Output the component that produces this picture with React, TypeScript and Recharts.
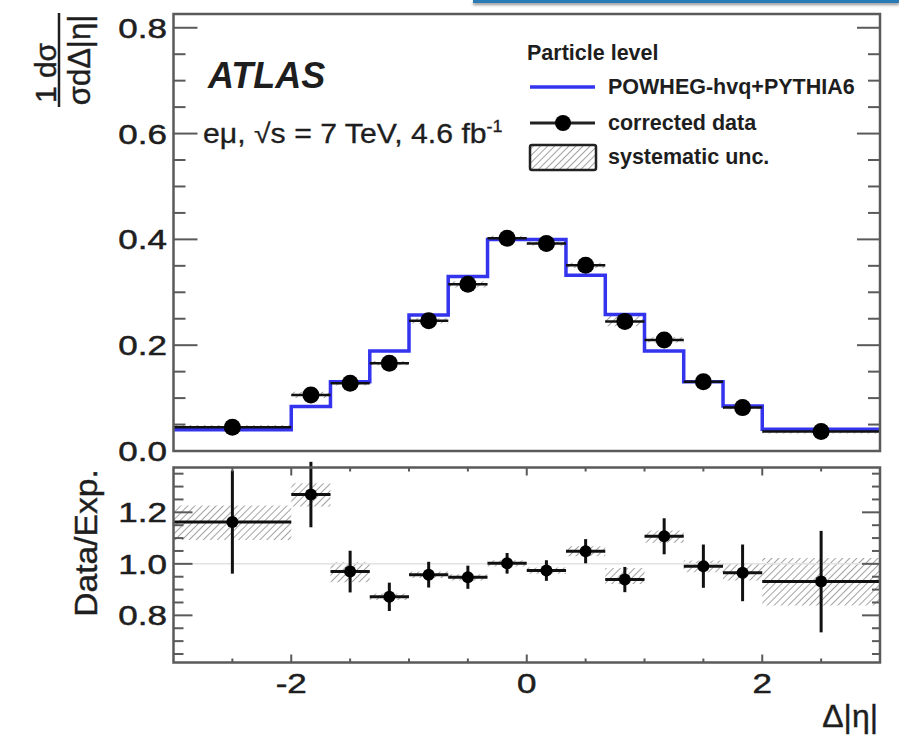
import React from 'react';
import {
  ComposedChart,
  Line,
  Scatter,
  ErrorBar,
  XAxis,
  YAxis,
  ReferenceArea,
  ReferenceLine,
} from 'recharts';

// Δ|η| binning
const binEdges = [-3, -2, -1.667, -1.333, -1, -0.667, -0.333, 0, 0.333, 0.667, 1, 1.333, 1.667, 2, 3];
const binCenters = [-2.5, -1.833, -1.5, -1.167, -0.833, -0.5, -0.167, 0.167, 0.5, 0.833, 1.167, 1.5, 1.833, 2.5];
const binHalfWidths = [0.5, 0.1667, 0.1667, 0.1667, 0.1667, 0.1667, 0.1667, 0.1667, 0.1667, 0.1667, 0.1667, 0.1667, 0.1667, 0.5];

// upper panel: normalised distribution
const mcValues = [0.040, 0.084, 0.131, 0.189, 0.257, 0.330, 0.400, 0.400, 0.332, 0.258, 0.189, 0.131, 0.085, 0.041];
const dataValues = [0.045, 0.106, 0.128, 0.166, 0.246, 0.315, 0.402, 0.392, 0.351, 0.245, 0.210, 0.131, 0.082, 0.037];
const dataSysLow = [0.041, 0.100, 0.124, 0.162, 0.241, 0.309, 0.397, 0.388, 0.346, 0.236, 0.205, 0.128, 0.079, 0.033];
const dataSysHigh = [0.049, 0.112, 0.132, 0.170, 0.251, 0.321, 0.407, 0.396, 0.356, 0.255, 0.215, 0.134, 0.085, 0.041];

// lower panel: data / expectation
const ratioValues = [1.162, 1.269, 0.970, 0.872, 0.958, 0.948, 1.002, 0.974, 1.049, 0.939, 1.107, 0.991, 0.965, 0.931];
const ratioStat = [0.2, 0.127, 0.081, 0.055, 0.05, 0.045, 0.04, 0.04, 0.047, 0.049, 0.07, 0.084, 0.11, 0.197];
const ratioSysLow = [1.093, 1.223, 0.929, 0.86, 0.945, 0.935, 0.99, 0.962, 1.029, 0.922, 1.082, 0.967, 0.935, 0.838];
const ratioSysHigh = [1.226, 1.313, 1.006, 0.885, 0.97, 0.96, 1.014, 0.986, 1.068, 0.984, 1.129, 1.013, 1.0, 1.023];

const xTicks = [-2.5, -2, -1.5, -1, -0.5, 0, 0.5, 1, 1.5, 2, 2.5];
const xMajor = [-2, 0, 2];
const upperYTicks = [0, 0.05, 0.1, 0.15, 0.2, 0.25, 0.3, 0.35, 0.4, 0.45, 0.5, 0.55, 0.6, 0.65, 0.7, 0.75, 0.8];
const upperYMajor = [0, 0.2, 0.4, 0.6, 0.8];
const lowerYTicks = [0.65, 0.7, 0.75, 0.8, 0.85, 0.9, 0.95, 1, 1.05, 1.1, 1.15, 1.2, 1.25, 1.3, 1.35];
const lowerYMajor = [0.8, 1, 1.2];

const W = 899;
const H = 736;
const L = 173.5;
const R = 880;
const T1 = 14;
const B1 = 451;
const T2 = 467.5;
const B2 = 662.5;
const UPPER_H = 480;

const FONT = '"Liberation Sans", Arial, Helvetica, sans-serif';
const INK = '#1e1e1e';
const FRAME = '#5a5a5a';
const BLUE = '#3434ee';

const mcLine = binEdges.map((e, i) => ({ x: e, y: mcValues[Math.min(i, mcValues.length - 1)] }));
const upperPoints = binCenters.map((c, i) => ({ x: c, y: dataValues[i], xe: binHalfWidths[i] }));
const lowerPoints = binCenters.map((c, i) => ({ x: c, y: ratioValues[i], xe: binHalfWidths[i], ye: ratioStat[i] }));

const Txt = ({ x, y, size, sx = 1, anchor = 'start', weight = 'normal', italic = false, rotate = 0, bold = 0, children }: any) => (
  <text
    transform={`translate(${x},${y}) rotate(${rotate}) scale(${sx},1)`}
    textAnchor={anchor}
    fontSize={size}
    fontWeight={weight}
    fontStyle={italic ? 'italic' : 'normal'}
    fontFamily={FONT}
    fill={INK}
    stroke={bold ? INK : 'none'}
    strokeWidth={bold}
  >
    {children}
  </text>
);

const makeXTick = (top: number, bottom: number, majLen: number, minLen: number, labels: boolean) => (p: any) => {
  const v = p.payload.value;
  const major = xMajor.includes(v);
  const len = major ? majLen : minLen;
  return (
    <g>
      <line x1={p.x} x2={p.x} y1={top} y2={top + len} stroke={FRAME} strokeWidth={2} />
      <line x1={p.x} x2={p.x} y1={bottom - len} y2={bottom} stroke={FRAME} strokeWidth={2} />
      {labels && major && (
        <Txt x={p.x} y={693} size={28} sx={1.25} bold={0.5} anchor="middle">{String(v)}</Txt>
      )}
    </g>
  );
};

const makeYTick = (majors: number[], majL: number, minL: number, majR: number, minR: number) => (p: any) => {
  const v = p.payload.value;
  const major = majors.includes(v);
  const lenL = major ? majL : minL;
  const lenR = major ? majR : minR;
  return (
    <g>
      <line x1={L} x2={L + lenL} y1={p.y} y2={p.y} stroke={FRAME} strokeWidth={2} />
      <line x1={R - lenR} x2={R} y1={p.y} y2={p.y} stroke={FRAME} strokeWidth={2} />
      {major && (
        <Txt x={167} y={p.y + 10} size={28} sx={1.25} bold={0.5} anchor="end">{v.toFixed(1)}</Txt>
      )}
    </g>
  );
};

const Dot = (r: number) => (p: any) => <circle cx={p.cx} cy={p.cy} r={r} fill="#000" />;

export default function App() {
  return (
    <div style={{ position: 'absolute', left: 0, top: 0, width: W, height: H, background: '#fff', overflow: 'hidden' }}>
      <div style={{ position: 'absolute', left: 0, top: 0 }}>
        <ComposedChart width={W} height={UPPER_H} margin={{ top: T1, right: W - R, bottom: UPPER_H - B1, left: 0 }}>
          <XAxis
            type="number"
            dataKey="x"
            domain={[-3, 3]}
            ticks={xTicks}
            interval={0}
            allowDataOverflow
            height={0}
            axisLine={false}
            tickLine={false}
            tick={makeXTick(T1, B1, 11, 6, false)}
          />
          <YAxis
            type="number"
            dataKey="y"
            domain={[0, 0.826]}
            ticks={upperYTicks}
            interval={0}
            allowDataOverflow
            width={L}
            axisLine={false}
            tickLine={false}
            tick={makeYTick(upperYMajor, 24, 12, 23, 12)}
          />
          {binCenters.map((c, i) => (
            <ReferenceArea
              key={'us' + i}
              x1={binEdges[i]}
              x2={binEdges[i + 1]}
              y1={dataSysLow[i]}
              y2={dataSysHigh[i]}
              fill="url(#hatch)"
              fillOpacity={1}
              stroke="none"
              ifOverflow="hidden"
            />
          ))}
          <Line
            data={mcLine}
            dataKey="y"
            type="stepAfter"
            stroke={BLUE}
            strokeWidth={3.5}
            dot={false}
            isAnimationActive={false}
          />
          <Scatter data={upperPoints} shape={Dot(8.5)} isAnimationActive={false}>
            <ErrorBar dataKey="xe" direction="x" width={0} stroke="#111" strokeWidth={2.5} isAnimationActive={false} />
          </Scatter>
        </ComposedChart>
      </div>

      <div style={{ position: 'absolute', left: 0, top: 0 }}>
        <ComposedChart width={W} height={H} margin={{ top: T2, right: W - R, bottom: H - B2 - 40, left: 0 }}>
          <XAxis
            type="number"
            dataKey="x"
            domain={[-3, 3]}
            ticks={xTicks}
            interval={0}
            allowDataOverflow
            height={40}
            axisLine={false}
            tickLine={false}
            tick={makeXTick(T2, B2, 8, 4, true)}
          />
          <YAxis
            type="number"
            dataKey="y"
            domain={[0.617, 1.374]}
            ticks={lowerYTicks}
            interval={0}
            allowDataOverflow
            width={L}
            axisLine={false}
            tickLine={false}
            tick={makeYTick(lowerYMajor, 19, 10, 18, 8)}
          />
          <ReferenceLine y={1} stroke="#e2e2e2" strokeWidth={1.5} />
          {binCenters.map((c, i) => (
            <ReferenceArea
              key={'ls' + i}
              x1={binEdges[i]}
              x2={binEdges[i + 1]}
              y1={ratioSysLow[i]}
              y2={ratioSysHigh[i]}
              fill="url(#hatch)"
              fillOpacity={1}
              stroke="none"
              ifOverflow="hidden"
            />
          ))}
          <Scatter data={lowerPoints} shape={Dot(6)} isAnimationActive={false}>
            <ErrorBar dataKey="xe" direction="x" width={0} stroke="#111" strokeWidth={3} isAnimationActive={false} />
            <ErrorBar dataKey="ye" direction="y" width={0} stroke="#111" strokeWidth={3} isAnimationActive={false} />
          </Scatter>
        </ComposedChart>
      </div>

      <svg width={W} height={H} style={{ position: 'absolute', left: 0, top: 0, pointerEvents: 'none' }}>
        <defs>
          <pattern id="hatch" patternUnits="userSpaceOnUse" width={5} height={5} patternTransform="rotate(45)">
            <line x1={0} y1={0} x2={0} y2={5} stroke="#8a8a8a" strokeWidth={1.6} />
          </pattern>
        </defs>

        {/* panel frames */}
        <rect x={L} y={T1} width={R - L} height={B1 - T1} fill="none" stroke={FRAME} strokeWidth={2.5} />
        <rect x={L} y={T2} width={R - L} height={B2 - T2} fill="none" stroke={FRAME} strokeWidth={2.5} />

        {/* axis titles */}
        <g transform="translate(59,60) rotate(-90)">
          <line x1={-47} x2={47} y1={0} y2={0} stroke={INK} strokeWidth={2.5} />
          <Txt x={-13} y={-3} size={30} bold={0.4} anchor="middle">1 dσ</Txt>
          <Txt x={0} y={31} size={31} bold={0.4} anchor="middle">σdΔ|η|</Txt>
        </g>
        <Txt x={97} y={543} size={32} sx={1.05} bold={0.4} anchor="middle" rotate={-90}>Data/Exp.</Txt>
        <Txt x={878} y={727} size={32} bold={0.4} anchor="end">Δ|η|</Txt>

        {/* labels */}
        <Txt x={208} y={88} size={36} weight="bold" italic>ATLAS</Txt>
        <Txt x={203} y={143} size={27} sx={1.12} bold={0.3}>
          eμ,  √s = 7 TeV, 4.6 fb<tspan dy={-11} fontSize={16}>-1</tspan>
        </Txt>

        {/* legend */}
        <Txt x={527} y={60} size={21.5} weight="bold">Particle level</Txt>
        <line x1={530} x2={595} y1={87} y2={87} stroke={BLUE} strokeWidth={3.5} />
        <Txt x={608} y={94} size={21.5} weight="bold">POWHEG-hvq+PYTHIA6</Txt>
        <line x1={530} x2={595} y1={123} y2={123} stroke="#222" strokeWidth={3} />
        <circle cx={563} cy={123} r={8} fill="#000" />
        <Txt x={608} y={130} size={21.5} weight="bold">corrected data</Txt>
        <rect x={530} y={145} width={66} height={25} rx={2} fill="url(#hatch)" stroke="#222" strokeWidth={2.5} />
        <Txt x={608} y={164} size={21.5} weight="bold">systematic unc.</Txt>
      </svg>

      <div
        style={{
          position: 'absolute',
          left: 473,
          top: 0,
          width: W - 473,
          height: 3,
          background: '#2a7ab8',
          boxShadow: '0 2px 3px rgba(0,0,0,0.45)',
        }}
      />
    </div>
  );
}
